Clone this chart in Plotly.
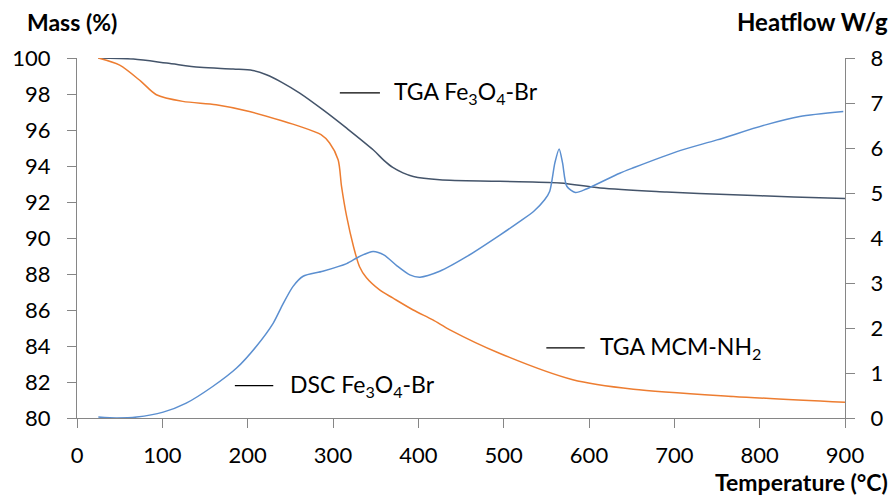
import plotly.graph_objects as go

# TGA Fe3O4-Br (left axis, mass %)
tga_fe_T = [25, 66, 105, 144, 183, 206, 222, 240, 261, 288, 316, 347, 360, 370, 382, 394, 425, 495, 566, 613, 691, 769, 840, 900]
tga_fe_m = [100.0, 99.94, 99.72, 99.48, 99.39, 99.31, 99.07, 98.65, 98.05, 97.13, 96.1, 94.9, 94.3, 93.92, 93.62, 93.42, 93.24, 93.15, 93.06, 92.78, 92.56, 92.4, 92.28, 92.2]

# TGA MCM-NH2 (left axis, mass %)
tga_mcm_T = [25, 50, 75, 93, 124, 163, 202, 241, 261, 286, 296, 306, 310, 316, 324, 331, 339, 355, 370, 394, 417, 437, 495, 581, 652, 769, 900]
tga_mcm_m = [100.0, 99.6, 98.7, 97.96, 97.59, 97.4, 97.03, 96.5, 96.2, 95.74, 95.28, 94.35, 92.87, 91.2, 89.53, 88.42, 87.8, 87.1, 86.67, 86.0, 85.45, 84.9, 83.6, 82.13, 81.6, 81.2, 80.87]

# DSC Fe3O4-Br (right axis, W/g)
dsc_T = [25, 46, 70, 101, 128, 159, 187, 210, 230, 241, 253, 265, 288, 316, 331, 347, 360, 375, 390, 402, 425, 457, 496, 519, 535, 548, 554, 560, 565, 569, 574, 584, 597, 636, 652, 703, 750, 808, 847, 898]
dsc_h = [0.02, 0.0, 0.02, 0.13, 0.33, 0.70, 1.11, 1.59, 2.11, 2.52, 2.92, 3.15, 3.26, 3.43, 3.59, 3.70, 3.62, 3.38, 3.18, 3.13, 3.26, 3.59, 4.07, 4.37, 4.59, 4.85, 5.04, 5.67, 5.98, 5.67, 5.15, 5.01, 5.09, 5.44, 5.56, 5.92, 6.18, 6.52, 6.70, 6.81]

x_ticks = [0, 100, 200, 300, 400, 500, 600, 700, 800, 900]
y_left_ticks = [80, 82, 84, 86, 88, 90, 92, 94, 96, 98, 100]
y_right_ticks = [0, 1, 2, 3, 4, 5, 6, 7, 8]

FONT = "Lato"
AX = "#868686"

fig = go.Figure()
fig.add_trace(go.Scatter(x=tga_fe_T, y=tga_fe_m, mode="lines", name="TGA Fe3O4-Br",
                         line=dict(color="#44546A", width=1.5, shape="spline", smoothing=0.9)))
fig.add_trace(go.Scatter(x=tga_mcm_T, y=tga_mcm_m, mode="lines", name="TGA MCM-NH2",
                         line=dict(color="#ED7D31", width=1.5, shape="spline", smoothing=0.8)))
fig.add_trace(go.Scatter(x=dsc_T, y=dsc_h, mode="lines", name="DSC Fe3O4-Br", yaxis="y2",
                         line=dict(color="#5B8FD0", width=1.5, shape="spline", smoothing=0.7)))

axis_common = dict(showgrid=False, zeroline=False, showline=True, linecolor=AX, linewidth=1.3,
                   ticks="outside", ticklen=9, tickcolor=AX, tickwidth=1.3,
                   tickfont=dict(family=FONT, size=22, color="black"))

fig.update_layout(
    width=896, height=500,
    margin=dict(l=77, r=51, t=58, b=82),
    paper_bgcolor="white", plot_bgcolor="white",
    showlegend=False,
    font=dict(family=FONT, color="black"),
    xaxis=dict(range=[0, 900], tickvals=x_ticks, ticklabelstandoff=8, **axis_common),
    yaxis=dict(range=[80, 100], tickvals=y_left_ticks, ticklabelstandoff=12, **axis_common),
    yaxis2=dict(range=[0, 8], tickvals=y_right_ticks, overlaying="y", side="right",
                ticklabelstandoff=11, **axis_common),
)

# label marker lines
for (x0, x1, yv) in [(308, 355, 98.06), (185, 230, 81.8), (550, 595, 83.9)]:
    fig.add_shape(type="line", xref="x", yref="y", x0=x0, x1=x1, y0=yv, y1=yv,
                  line=dict(color="black", width=1.3))

labels = [
    (369, 98.06, "TGA Fe<sub>3</sub>O<sub>4</sub>-Br"),
    (247, 81.8, "DSC Fe<sub>3</sub>O<sub>4</sub>-Br"),
    (611, 83.9, "TGA MCM-NH<sub>2</sub>"),
]
for (xv, yv, t) in labels:
    fig.add_annotation(x=xv, y=yv, xref="x", yref="y", text=t, showarrow=False,
                       xanchor="left", yanchor="middle", font=dict(family=FONT, size=23, color="black"))

fig.add_annotation(x=-0.068, y=1.101, xref="paper", yref="paper", text="<b>Mass (%)</b>",
                   showarrow=False, xanchor="left", yanchor="middle", font=dict(family=FONT, size=23))
fig.add_annotation(x=1.0586, y=1.101, xref="paper", yref="paper", text="<b>Heatflow W/g</b>",
                   showarrow=False, xanchor="right", yanchor="middle", font=dict(family=FONT, size=24))
fig.add_annotation(x=1.0586, y=-0.222, xref="paper", yref="paper", text="<b>Temperature (°C)</b>",
                   showarrow=False, xanchor="right", yanchor="bottom", font=dict(family=FONT, size=23))

fig.write_html("out.html")
